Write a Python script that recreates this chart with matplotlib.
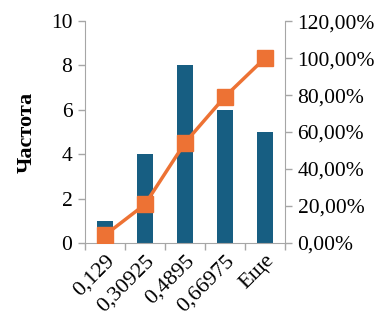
import numpy as np
import matplotlib.pyplot as plt
from matplotlib.ticker import FuncFormatter

plt.rcParams['font.family'] = ['Liberation Serif', 'DejaVu Serif']

categories = ["0,129", "0,30925", "0,4895", "0,66975", "Еще"]
freq = [1, 4, 8, 6, 5]
cum_pct = [4.17, 20.83, 54.17, 79.17, 100.0]

bar_col = "#175E82"
line_col = "#ED7234"
grey = "#A6A6A6"

fig = plt.figure(figsize=(3.79, 3.11), dpi=100)
ax = fig.add_axes([0.224, 0.219, 0.528, 0.713])
x = np.arange(len(categories))
ax.bar(x, freq, width=0.4, color=bar_col, zorder=2)
ax.set_xlim(-0.5, len(categories) - 0.5)
ax.set_ylim(0, 10)
ax.set_yticks([0, 2, 4, 6, 8, 10])
ax.set_xticks(np.arange(-0.5, len(categories), 1))
ax.set_xticklabels([])
ax.set_xticks(x, minor=True)
ax.set_xticklabels(categories, minor=True, rotation=45, ha="right",
                   rotation_mode="anchor", fontsize=16)
ax.tick_params(axis="x", which="minor", length=0, pad=6)
ax.tick_params(axis="x", which="major", length=5, color=grey, width=1)
ax.tick_params(axis="y", length=5, color=grey, width=1, labelsize=15.5, pad=4)
ax.set_ylabel("Частота", fontsize=16, fontweight="bold", labelpad=10)
for s in ["top", "right"]:
    ax.spines[s].set_visible(False)
for s in ["left", "bottom"]:
    ax.spines[s].set_color(grey)

ax2 = ax.twinx()
ax2.plot(x, np.array(cum_pct) / 100, color=line_col, lw=2.5, marker="s",
         markersize=12, zorder=3)
ax2.set_ylim(0, 1.2)
ax2.set_yticks(np.arange(0, 1.21, 0.2))
ax2.yaxis.set_major_formatter(FuncFormatter(lambda v, p: f"{v*100:.2f}%".replace(".", ",")))
ax2.tick_params(axis="y", length=5, color=grey, width=1, labelsize=15.5, pad=4)
for s in ["top", "left", "bottom"]:
    ax2.spines[s].set_visible(False)
ax2.spines["right"].set_color(grey)

fig.savefig("out.png", dpi=100)
